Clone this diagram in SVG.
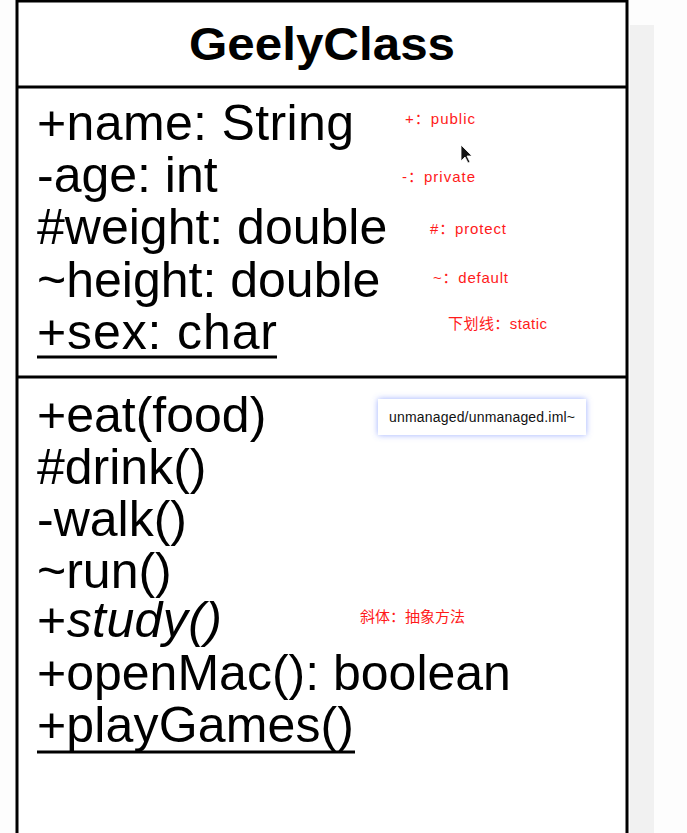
<svg xmlns="http://www.w3.org/2000/svg" width="687" height="833" viewBox="0 0 687 833">
<defs>
<style>
.box{fill:#fff;stroke:#000;stroke-width:3}
.t{font-family:"Liberation Sans",Arial,sans-serif;font-size:50px;fill:#000}
.h{font-family:"Liberation Sans",Arial,sans-serif;font-size:46px;font-weight:bold;fill:#000}
.r{font-family:"Liberation Sans","Noto Sans CJK SC",sans-serif;font-size:15px;fill:#ff1a1a}
.u{stroke:#000;stroke-width:3}
.tip{font-family:"Liberation Sans",Arial,sans-serif;font-size:14px;fill:#111}
</style>
<filter id="glow" x="-20%" y="-60%" width="140%" height="220%">
<feGaussianBlur in="SourceAlpha" stdDeviation="4"/>
<feFlood flood-color="#5a78ff" flood-opacity="0.6"/>
<feComposite operator="in" in2="SourceAlpha"/>
<feGaussianBlur stdDeviation="3"/>
<feMerge><feMergeNode/><feMergeNode in="SourceGraphic"/></feMerge>
</filter>
</defs>
<rect width="687" height="833" fill="#fdfdfd"/>
<rect x="630" y="25" width="24" height="808" fill="#f1f1f1"/>
<g id="GeelyClass">
<rect class="box" x="17" y="1" width="610" height="840"/>
<line class="u" x1="17" y1="87" x2="627" y2="87"/>
<line class="u" x1="17" y1="377" x2="627" y2="377"/>
<text class="h" x="322" y="60" text-anchor="middle" textLength="266" lengthAdjust="spacingAndGlyphs">GeelyClass</text>
<text class="t" x="37" y="140" textLength="317">+name: String</text>
<text class="t" x="37" y="192">-age: int</text>
<text class="t" x="37" y="244">#weight: double</text>
<text class="t" x="37" y="297">~height: double</text>
<text class="t" x="37" y="349" textLength="240">+sex: char</text>
<line class="u" x1="37" y1="357" x2="277" y2="357"/>
<text class="t" x="37" y="432">+eat(food)</text>
<text class="t" x="37" y="484">#drink()</text>
<text class="t" x="37" y="536">-walk()</text>
<text class="t" x="37" y="588">~run()</text>
<text class="t" x="37" y="637" textLength="185">+<tspan font-style="italic">study()</tspan></text>
<text class="t" x="37" y="690">+openMac(): boolean</text>
<text class="t" x="37" y="742" textLength="317">+playGames()</text>
<line class="u" x1="37" y1="752" x2="355" y2="752"/>
</g>
<g id="annotations">
<text class="r" x="405" y="124" textLength="70">+：public</text>
<text class="r" x="402" y="182" textLength="73">-：private</text>
<text class="r" x="430" y="234" textLength="76">#：protect</text>
<text class="r" x="433" y="283" textLength="75">~：default</text>
<text class="r" x="448" y="329" textLength="99">下划线：static</text>
<text class="r" x="360" y="622" textLength="105">斜体：抽象方法</text>
</g>
<g id="tooltip">
<rect x="378" y="399" width="208" height="36" fill="#fff" filter="url(#glow)"/>
<text class="tip" x="389" y="422" textLength="186">unmanaged/unmanaged.iml~</text>
</g>
<g id="cursor">
<polygon points="461,145 461,161 465,157 468,163 470,162 467,156 472,156" fill="#111" stroke="#fff" stroke-width="0.8"/>
</g>
<g id="connectors"/>
</svg>
